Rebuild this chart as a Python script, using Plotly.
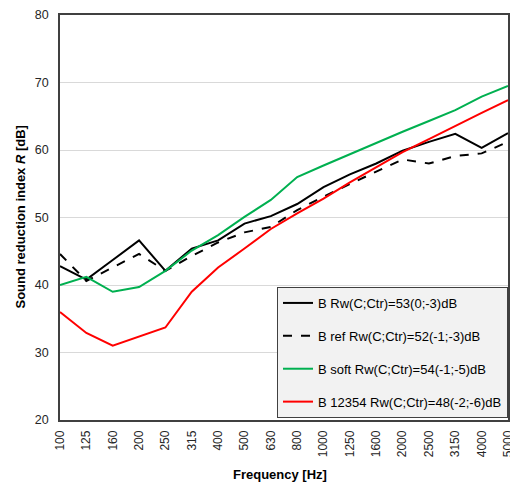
import plotly.graph_objects as go

freqs = ["100", "125", "160", "200", "250", "315", "400", "500", "630", "800",
         "1000", "1250", "1600", "2000", "2500", "3150", "4000", "5000"]

b_vals = [42.8, 40.8, 43.7, 46.6, 42.1, 45.4, 46.6, 49.1, 50.2, 52.0,
          54.5, 56.4, 58.0, 59.9, 61.2, 62.4, 60.3, 62.5]
b_ref_vals = [44.6, 40.6, 42.6, 44.6, 42.1, 44.3, 46.3, 47.8, 48.6, 51.1,
              53.1, 55.0, 56.8, 58.6, 58.0, 59.1, 59.5, 61.2]
b_soft_vals = [40.0, 41.2, 39.0, 39.7, 42.1, 45.1, 47.4, 50.1, 52.6, 56.0,
               57.7, 59.4, 61.1, 62.7, 64.3, 65.9, 67.9, 69.5]
b_12354_vals = [36.0, 32.9, 31.0, 32.4, 33.7, 39.0, 42.6, 45.4, 48.3, 50.6,
                52.8, 55.2, 57.5, 59.7, 61.6, 63.6, 65.5, 67.4]

names = ["B Rw(C;Ctr)=53(0;-3)dB", "B ref Rw(C;Ctr)=52(-1;-3)dB",
         "B soft Rw(C;Ctr)=54(-1;-5)dB", "B 12354 Rw(C;Ctr)=48(-2;-6)dB"]
series = [b_vals, b_ref_vals, b_soft_vals, b_12354_vals]
colors = ["#000000", "#000000", "#00b050", "#ff0000"]
dashes = ["solid", "dash", "solid", "solid"]

fig = go.Figure()
for i, (n, v, c, d) in enumerate(zip(names, series, colors, dashes)):
    fig.add_trace(go.Scatter(x=freqs, y=v, mode="lines", name=n,
                             legendgroup=f"g{i}",
                             line=dict(color=c, width=2, dash=d)))

font_family = "Liberation Sans, Arial, sans-serif"
fig.update_layout(
    width=510, height=474,
    margin=dict(l=52, r=10, t=7, b=62),
    paper_bgcolor="white", plot_bgcolor="white",
    font=dict(family=font_family, size=12, color="#262626"),
    showlegend=True,
    legend=dict(x=1, y=0.005, xanchor="right", yanchor="bottom",
                bgcolor="#f2f2f2", bordercolor="#404040", borderwidth=1,
                font=dict(size=13, color="#000000"),
                tracegroupgap=13, traceorder="grouped",
                itemwidth=30),
    xaxis=dict(type="category", range=[0, 17], tickangle=-90,
               automargin=False, ticklabeloverflow="allow",
               ticklabelstandoff=4,
               showgrid=False, showline=True, mirror=True,
               linecolor="#404040", linewidth=1.5, ticks="",
               tickfont=dict(size=12, color="#262626")),
    yaxis=dict(range=[20, 80], dtick=10, showgrid=True, gridcolor="#d9d9d9",
               automargin=False, ticklabeloverflow="allow",
               ticklabelstandoff=7,
               gridwidth=1, showline=True, mirror=True,
               linecolor="#404040", linewidth=1.5, ticks="",
               zeroline=False,
               tickfont=dict(size=12.5, color="#262626")),
    annotations=[
        dict(text="<b>Frequency [Hz]</b>", xref="paper", yref="paper",
             x=0.49, y=0, xanchor="center", yanchor="middle", yshift=-54,
             showarrow=False, font=dict(size=13, color="#000000")),
        dict(text="<b>Sound reduction index <i>R</i> [dB]</b>",
             xref="paper", yref="paper", x=0, y=0.5, xanchor="center",
             yanchor="middle", xshift=-40, textangle=-90,
             showarrow=False, font=dict(size=13, color="#000000")),
    ],
)

fig.write_html("out.html")
